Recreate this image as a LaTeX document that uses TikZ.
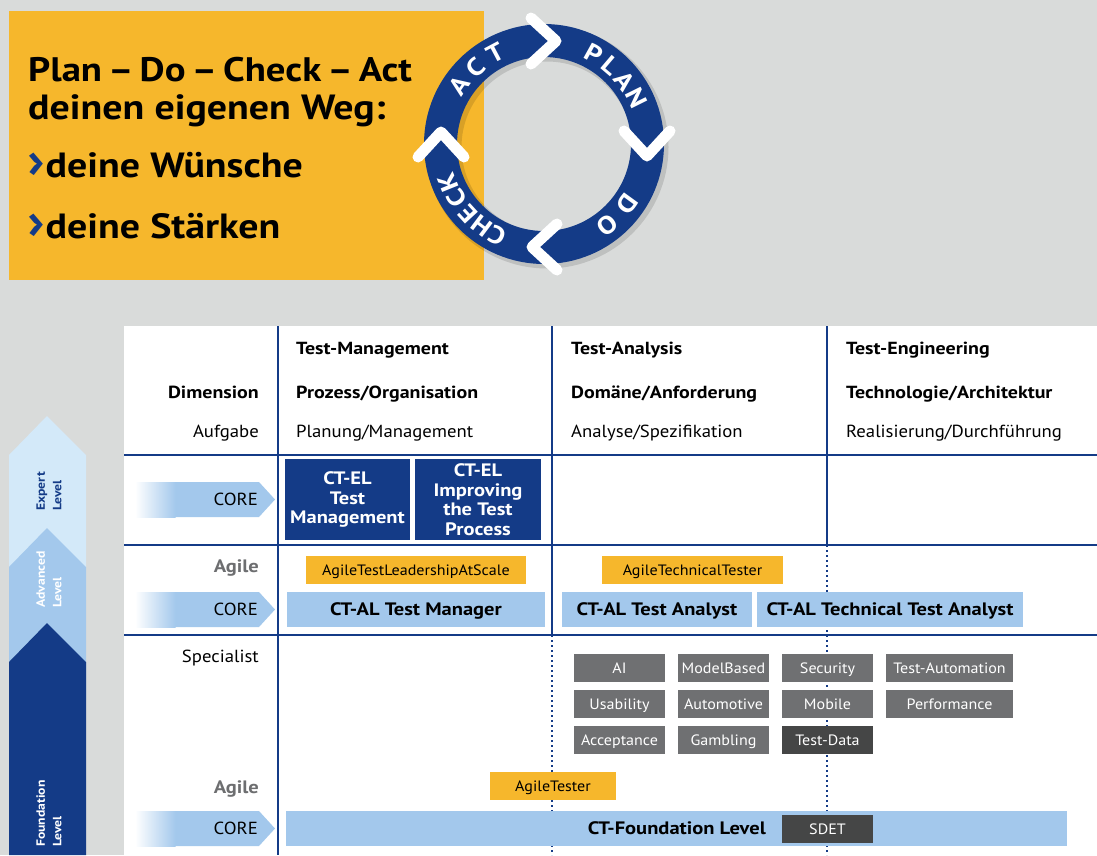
\documentclass[tikz,border=0pt]{standalone}
\usepackage{fontspec}
\setmainfont{PT Sans}[FakeStretch=1.07, BoldFeatures={FakeStretch=1.14}]
\definecolor{bggray}{HTML}{D9DBDA}
\definecolor{pdcayel}{HTML}{F6B72C}
\definecolor{navy}{HTML}{143B87}
\definecolor{lightblu}{HTML}{A3C8EC}
\definecolor{paleblu}{HTML}{D3E9F9}
\definecolor{specgray}{HTML}{6F7072}
\definecolor{darkgray}{HTML}{454646}
\definecolor{agilegray}{HTML}{6D6E70}

\begin{document}
\begin{tikzpicture}[x=1pt,y=-1pt,
   titletext/.style={anchor=base west, inner sep=0pt, font=\bfseries\fontsize{35}{38}\selectfont},
   bullet/.style={text=navy, font=\bfseries\fontsize{50}{50}\selectfont},
   hdr/.style={anchor=base west, inner sep=0pt, font=\bfseries\fontsize{17.5}{20}\selectfont},
   sub/.style={anchor=base west, inner sep=0pt, font=\fontsize{17.5}{20}\selectfont},
   lbl/.style={anchor=base east, inner sep=0pt, font=\fontsize{17.5}{20}\selectfont},
   agilelbl/.style={anchor=base east, inner sep=0pt, text=agilegray, font=\bfseries\fontsize{18}{20}\selectfont},
   lvltext/.style={rotate=90, anchor=west, align=left, inner sep=0pt, font=\bfseries\fontsize{12}{16.5}\selectfont},
   elbox/.style={fill=navy, text=white, align=center, inner sep=0pt, minimum height=81pt, font=\bfseries\fontsize{18}{19.5}\selectfont},
   albox/.style={fill=lightblu, inner sep=0pt, minimum height=35pt, text height=12.6pt, text depth=0pt, font=\bfseries\fontsize{18}{20}\selectfont},
   agilebox/.style={fill=pdcayel, inner sep=0pt, minimum height=28pt, text height=11pt, text depth=0pt, font=\fontsize{15}{16}\selectfont},
   specbox/.style={fill=specgray, text=white, inner sep=0pt, minimum width=91pt, minimum height=28pt, text height=11pt, text depth=0pt, font=\fontsize{15}{16}\selectfont},
   grid/.style={navy, line width=1.8pt},
   dotgrid/.style={navy, line width=1.6pt, dash pattern=on 1.6pt off 3.4pt},
   chev/.style={white, line width=11pt, line cap=round, line join=round},
   ringletter/.style={text=white, inner sep=0pt, font=\bfseries\fontsize{25}{25}\selectfont}]
   \useasboundingbox (0,0) rectangle (1097,855);
   \fill[bggray] (0,0) rectangle (1097,855);

   \fill[pdcayel] (9,11) rectangle (484,280);
   \node[titletext, font=\bfseries\fontsize{34}{38}\selectfont] (t1) at (28,81) {Plan\hspace{6pt}–\hspace{6pt}Do\hspace{6pt}–\hspace{6pt}Check\hspace{6pt}–\hspace{6pt}Act};
   \node[titletext] (t2) at (28,119) {deinen eigenen Weg:};
   \node[titletext] (wish) at (27,177) {{\fontsize{50}{50}\selectfont\textcolor{navy}{›}}\hspace{1pt}deine Wünsche};
   \node[titletext] (strength) at (27,238) {{\fontsize{50}{50}\selectfont\textcolor{navy}{›}}\hspace{1pt}deine Stärken};

   \draw[black, opacity=0.12, line width=36pt] (547,147) circle[radius=103.5];
   \draw[navy, line width=33pt] (544,144) circle[radius=103.5];
   \foreach \a in {0,-90,-180,-270}
      \draw[chev, rotate around={\a:(544,144)}] (531,18) -- (556,41) -- (531,64);
   \foreach \p/\c [count=\i] in {61/P,49.6/L,38/A,26.4/N,-36/D,-52/O,-117/C,-127/H,-137.5/E,-148/C,-158/K,145/A,132/C,118/T}
      \node[ringletter, rotate=\p-90] (ring\i) at ([shift={(-\p:103)}]544,144) {\c};

   \fill[white] (124,326) rectangle (1097,855);
   \fill[paleblu] (9,455) -- (47,416) -- (86,455) -- (86,600) -- (9,600) -- cycle;
   \fill[lightblu] (9,567) -- (47,528) -- (86,567) -- (86,700) -- (9,700) -- cycle;
   \fill[navy] (9,662) -- (47,623) -- (86,662) -- (86,855) -- (9,855) -- cycle;
   \node[lvltext, text=navy] (expert) at (49,511) {Expert\\Level};
   \node[lvltext, text=white] (advanced) at (49,608) {Advanced\\Level};
   \node[lvltext, text=white] (foundation) at (49,847) {Foundation\\Level};

   \foreach \y/\n in {499.5/ex,609.5/ad,828.5/fo} {
      \fill[lightblu] (175,\y-17.5) -- (259,\y-17.5) -- (275,\y) -- (259,\y+17.5) -- (175,\y+17.5) -- cycle;
      \shade[left color=white, right color=lightblu] (135,\y-17.5) rectangle (175.5,\y+17.5);
      \node[lbl, anchor=east] (core\n) at (258,\y) {CORE};
   }

   \draw[grid] (124,455) -- (1097,455);
   \draw[grid] (124,545) -- (1097,545);
   \draw[grid] (124,635) -- (1097,635);
   \draw[grid] (278,326) -- (278,855);
   \draw[grid] (552,326) -- (552,635);
   \draw[grid] (827,326) -- (827,545);
   \draw[dotgrid] (552,635) -- (552,855);
   \draw[dotgrid] (827,545) -- (827,855);

   \node[hdr] (tm) at (296,354) {Test-Management};
   \node[hdr] (ta) at (571,354) {Test-Analysis};
   \node[hdr] (te) at (846,354) {Test-Engineering};
   \node[lbl, font=\bfseries\fontsize{17.5}{20}\selectfont] (dim) at (259,398) {Dimension};
   \node[hdr] (po) at (296,398) {Prozess/Organisation};
   \node[hdr] (da) at (571,398) {Domäne/Anforderung};
   \node[hdr] (tea) at (846,398) {Technologie/Architektur};
   \node[lbl] (auf) at (259,437) {Aufgabe};
   \node[sub] (pm) at (296,437) {Planung/Management};
   \node[sub] (as) at (571,437) {Analyse/Spezifikation};
   \node[sub] (rd) at (846,437) {Realisierung/Durchführung};

   \node[elbox, minimum width=125pt] (eltm) at (347.5,499.5) {CT-EL\\Test\\Management};
   \node[elbox, minimum width=126pt] (elitp) at (478,499.5) {CT-EL\\Improving\\the Test\\Process};

   \node[agilelbl] (agad) at (259,572) {Agile};
   \node[agilebox, minimum width=220pt] (atls) at (416,570) {AgileTestLeadershipAtScale};
   \node[agilebox, minimum width=181pt] (att) at (692.5,570) {AgileTechnicalTester};
   \node[albox, minimum width=258pt] (altm) at (416,609.5) {CT-AL Test Manager};
   \node[albox, minimum width=190pt] (alta) at (657,609.5) {CT-AL Test Analyst};
   \node[albox, minimum width=266pt] (altta) at (890,609.5) {CT-AL Technical Test Analyst};

   \node[lbl] (spec) at (259,662) {Specialist};
   \foreach \t/\x/\y/\n in {AI/619.5/668/ai, ModelBased/723.5/668/mb, Security/827.5/668/sec,
         Usability/619.5/704/usa, Automotive/723.5/704/auto, Mobile/827.5/704/mob,
         Acceptance/619.5/740/acc, Gambling/723.5/740/gam}
      \node[specbox] (\n) at (\x,\y) {\t};
   \node[specbox, minimum width=127pt] (tauto) at (949.5,668) {Test-Automation};
   \node[specbox, minimum width=127pt] (perf) at (949.5,704) {Performance};
   \node[specbox, fill=darkgray] (tdata) at (827.5,740) {Test-Data};

   \node[agilelbl] (agfo) at (259,793) {Agile};
   \node[agilebox, minimum width=126pt] (agt) at (553,786) {AgileTester};
   \node[albox, minimum width=781pt] (ctfl) at (676.5,828.5) {};
   \node[albox, anchor=east, fill=none] (ctfltext) at (766,828.5) {CT-Foundation Level};
   \node[specbox, fill=darkgray] (sdet) at (827.5,829) {SDET};
\end{tikzpicture}
\end{document}
